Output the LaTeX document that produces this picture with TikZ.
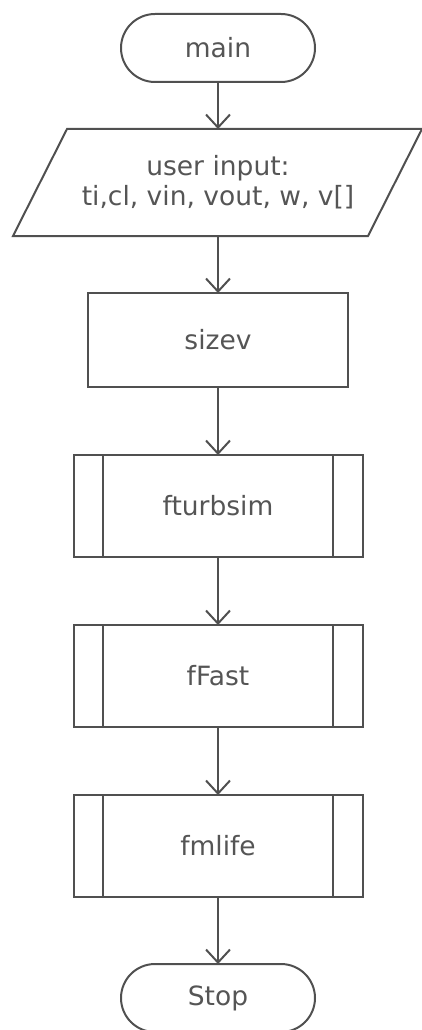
\documentclass[tikz,border=0pt]{standalone}
\usepackage{fontspec}
\setmainfont{DejaVu Sans}
\usepackage{xcolor}
\usetikzlibrary{positioning}
\usetikzlibrary{arrows.meta}
\usetikzlibrary{shapes}
\definecolor{lineGray}{HTML}{505050}
\definecolor{textGray}{HTML}{555555}

\begin{document}
\begin{tikzpicture}[x=1pt, y=-1pt,
                    base/.style = { draw = lineGray, line width = 2pt, text = textGray, font = \fontsize{26.5}{30}\selectfont, inner sep=0pt, outer sep=0pt },
                    term/.style = { base, rectangle, rounded corners = 34pt, minimum width = 194pt, minimum height = 68pt },
                    io/.style = { base, draw = none, rectangle, minimum width = 355pt, minimum height = 107pt, align = center },
                    proc/.style = { base, rectangle, minimum width = 260pt, minimum height = 94pt },
                    sub/.style = { base, rectangle, minimum width = 289pt, minimum height = 102pt },
                    bar/.style = { draw = lineGray, line width = 2pt },
                    flow/.style = { draw = lineGray, line width = 2pt, -{Straight Barb[length=13pt, width=24pt, line width=2pt]} },
                    ]
    \useasboundingbox (0,0) rectangle (422,1030);
    \node[term] (main) at (218,48) {main};
    \node[io] (input) at (218,182.5) {user input:\\ti,cl, vin, vout, w, v[]};
    \draw[bar, line join=miter] ([xshift=26.5pt]input.north west) -- ([xshift=26.5pt]input.north east)
        -- ([xshift=-27.5pt]input.south east) -- ([xshift=-27.5pt]input.south west) -- cycle;
    \node[proc] (sizev) at (218,340) {sizev};
    \node[sub] (turb) at (218,506) {fturbsim};
    \node[sub] (fast) at (218,676) {fFast};
    \node[sub] (life) at (218,846) {fmlife};
    \node[term] (stop) at (218,998) {Stop};
    % inner bars of the subroutine boxes
    \foreach \n in {turb,fast,life} {
        \draw[bar] ([xshift=29.5pt]\n.north west) -- ([xshift=29.5pt]\n.south west);
        \draw[bar] ([xshift=-29.5pt]\n.north east) -- ([xshift=-29.5pt]\n.south east);
    }
    \draw[flow] (main) -- (input);
    \draw[flow] (input) -- (sizev);
    \draw[flow] (sizev) -- (turb);
    \draw[flow] (turb) -- (fast);
    \draw[flow] (fast) -- (life);
    \draw[flow] (life) -- (stop);
\end{tikzpicture}
\end{document}
